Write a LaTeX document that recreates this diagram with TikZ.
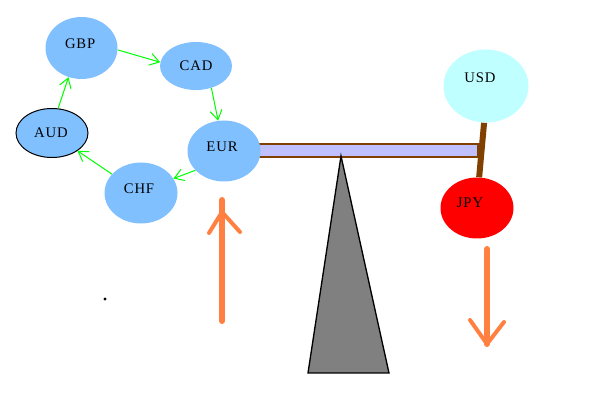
\documentclass[tikz,border=0pt]{standalone}
\usepackage{fontspec}
\setmainfont{Liberation Serif}
\usetikzlibrary{shapes.geometric,arrows.meta,backgrounds}
\definecolor{cblue}{HTML}{80C0FF}
\definecolor{cusd}{HTML}{C0FFFF}
\definecolor{cjpy}{HTML}{FF0000}
\definecolor{cbeam}{HTML}{C0C0FF}
\definecolor{cbrown}{HTML}{804000}
\definecolor{cgray}{HTML}{808080}
\definecolor{corange}{HTML}{FF8040}
\definecolor{cgreen}{HTML}{00FF00}
\begin{document}
\begin{tikzpicture}[x=0.75pt,y=-0.75pt,
  cur/.style={ellipse, inner sep=0pt, fill=cblue},
  curlab/.style={inner sep=0pt, font=\fontsize{11}{13}\selectfont\addfontfeature{LetterSpace=6}},
  garrow/.style={draw=cgreen, line width=0.75pt, -{Straight Barb[length=7pt,width=9pt]}},
  oarrow/.style={draw=corange, line width=4.5pt, line cap=round},
  ohead/.style={draw=corange, line width=3pt, line cap=round, line join=round}]
\useasboundingbox (0,0) rectangle (589,402);

\node[cur, minimum width=54pt, minimum height=46.5pt, label={[curlab,xshift=-1pt,yshift=3pt]center:GBP}] (gbp) at (81.5,48) {};
\node[cur, minimum width=54pt, minimum height=36pt, label={[curlab]center:CAD}] (cad) at (196,66) {};
\node[cur, draw=black, line width=0.75pt, minimum width=54pt, minimum height=36.75pt, label={[curlab,xshift=-0.75pt]center:AUD}] (aud) at (52,133) {};
\node[cur, minimum width=54.75pt, minimum height=45.75pt, label={[curlab,xshift=-1.5pt,yshift=3pt]center:EUR}] (eur) at (224,151) {};
\node[cur, minimum width=54.75pt, minimum height=45.75pt, label={[curlab,xshift=-1.5pt,yshift=3pt]center:CHF}] (chf) at (141,193) {};
\node[cur, fill=cusd, minimum width=63.75pt, minimum height=54.75pt, label={[curlab,xshift=-4.5pt,yshift=6pt]center:USD}] (usd) at (486,86) {};
\node[cur, fill=cjpy, minimum width=54.75pt, minimum height=45.75pt, label={[curlab,xshift=-5.25pt,yshift=3.75pt]center:JPY}] (jpy) at (477,208) {};

\begin{pgfonlayer}{background}
  \draw[cbrown, line width=4.5pt] (usd.-93) -- (jpy.86);
  \filldraw[fill=cbeam, draw=cbrown, line width=0.9pt] (240,144) rectangle (478,157);
\end{pgfonlayer}

% fulcrum
\coordinate (apex) at (341,156);
\coordinate (bl) at (308,373);
\coordinate (br) at (389,373);
\filldraw[fill=cgray, draw=black, line width=1pt] (apex) -- (br) -- (bl) -- cycle;

% green cycle
\draw[garrow] (gbp.-3) -- (cad.174);
\draw[garrow] (cad.-55) -- (eur.101);
\draw[garrow] (eur.-146) -- (chf.24);
\draw[garrow] (chf.147) -- (aud.-35);
\draw[garrow] (aud.76) -- (gbp.-114);

% orange arrows
\coordinate (ua) at (222,321);
\coordinate (ub) at (222,200);
\coordinate (uj) at (222,212);
\draw[oarrow] (ua) -- (ub);
\draw[ohead] (209,233) -- (uj) -- (240,232);
\coordinate (da) at (487,249);
\coordinate (db) at (487,344);
\draw[oarrow] (da) -- (db);
\draw[ohead] (470,320) -- (db) -- (504,322);

% dot
\fill[black] (105,299) circle (1.2pt);
\end{tikzpicture}
\end{document}
